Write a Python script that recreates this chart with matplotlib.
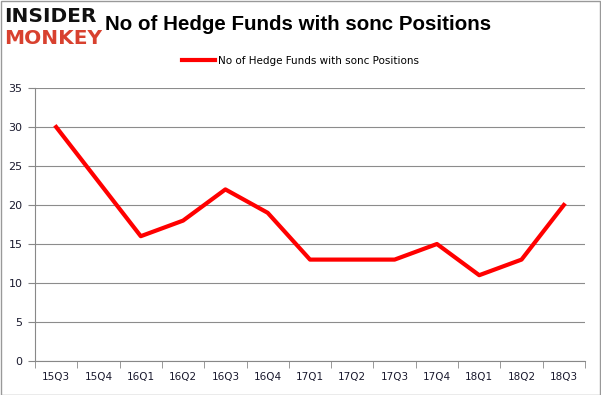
import matplotlib
matplotlib.use("Agg")
import matplotlib.pyplot as plt
from matplotlib.patches import Rectangle

quarters = ["15Q3", "15Q4", "16Q1", "16Q2", "16Q3", "16Q4", "17Q1",
            "17Q2", "17Q3", "17Q4", "18Q1", "18Q2", "18Q3"]
funds = [30, 23, 16, 18, 22, 19, 13, 13, 13, 15, 11, 13, 20]
series_name = "No of Hedge Funds with sonc Positions"

fig = plt.figure(figsize=(6.01, 3.95), dpi=100)
ax = fig.add_axes([35 / 601, 34 / 395, 550 / 601, 273 / 395])

xs = range(len(quarters))
ax.plot(xs, funds, color="#FF0000", linewidth=3, label=series_name)

ax.set_xlim(-0.5, len(quarters) - 0.5)
ax.set_ylim(0, 35)
ax.set_yticks(range(0, 36, 5))
ax.set_xticks(xs)
ax.set_xticklabels(quarters)
ax.set_xticks([i - 0.5 for i in range(len(quarters) + 1)], minor=True)
ax.tick_params(axis="x", which="major", length=0, pad=8,
               labelsize=7.5, labelcolor="#1a1a2e")
ax.tick_params(axis="x", which="minor", length=5, color="#888888",
               direction="out")
ax.tick_params(axis="y", length=5, color="#888888", labelsize=8,
               labelcolor="#1a1a2e", pad=4)
ax.grid(axis="y", color="#8c8c8c", linewidth=0.8)
ax.set_axisbelow(True)
for s in ["top", "right"]:
    ax.spines[s].set_visible(False)
for s in ["left", "bottom"]:
    ax.spines[s].set_color("#888888")

# legend
fig.legend(loc="center", bbox_to_anchor=(0.5, 1 - 61 / 395), frameon=False,
           fontsize=7.5, handlelength=3.2, handletextpad=0.3)

# title and logo
fig.text(105 / 601, 1 - 25 / 395, "No of Hedge Funds with sonc Positions",
         fontsize=14.8, fontweight="bold", family="Liberation Sans",
         va="center", ha="left")
fig.text(4 / 601, 1 - 16 / 395, "INSIDER", fontsize=14.5, fontweight="heavy",
         color="#111111", va="center", ha="left")
fig.text(4 / 601, 1 - 39 / 395, "MONKEY", fontsize=14.5, fontweight="heavy",
         color="#D8412F", va="center", ha="left")

# outer border
fig.patches.append(Rectangle((0.001, 0.001), 0.997, 0.997,
                             transform=fig.transFigure, fill=False,
                             edgecolor="#999999", linewidth=1))

fig.savefig("out.png", dpi=100)
